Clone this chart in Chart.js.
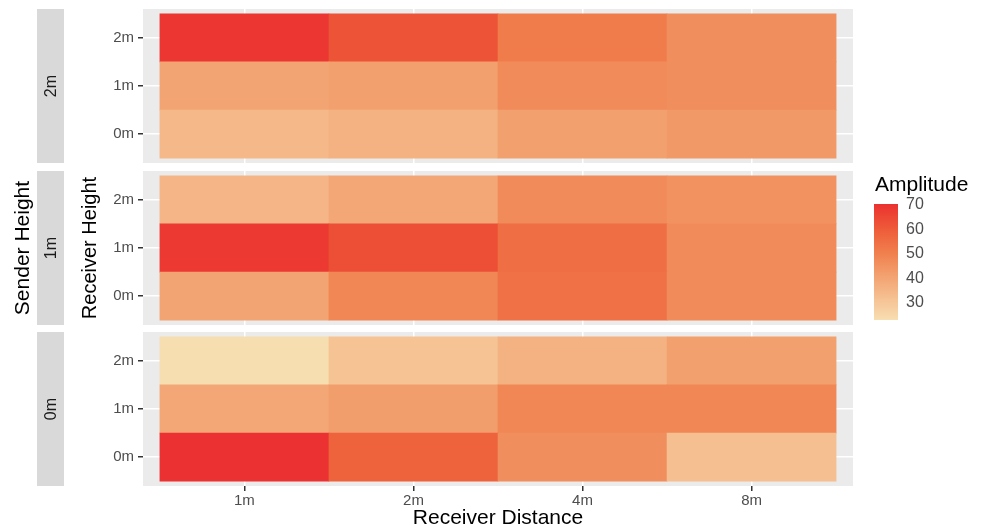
<!DOCTYPE html>
<html>
<head>
<meta charset="utf-8">
<script src="https://cdn.jsdelivr.net/npm/chart.js@4.4.1/dist/chart.umd.min.js"></script>
<style>
  body { margin: 0; background: #fff; font-family: "Liberation Sans", Arial, sans-serif; }
  #wrap { position: relative; width: 982px; height: 532px; overflow: hidden; }
  canvas { position: absolute; left: 0; }
  .rot { position: absolute; width: 300px; text-align: center; transform: rotate(-90deg); white-space: nowrap; }
  .strip { position: absolute; left: 37px; width: 27px; background: #D9D9D9; }
  .lab { position: absolute; font-size: 16px; color: #4D4D4D; }
</style>
</head>
<body>
<div id="wrap"></div>
<script>
// categories
var distances = ['1m', '2m', '4m', '8m'];
var receiverHeights = ['0m', '1m', '2m'];
var senderHeights = ['2m', '1m', '0m']; // panels top to bottom

// amplitude, rows = receiver height 0m, 1m, 2m; columns = distances
var ampSender2m = [
    [34, 36, 41, 43],
    [40, 41, 47, 46],
    [69, 62, 51, 46]
];
var ampSender1m = [
    [40, 48, 54, 47],
    [68, 63, 55, 47],
    [35, 39, 47, 45]
];
var ampSender0m = [
    [70.2, 58, 46, 32],
    [39, 42, 48, 48],
    [22.7, 31, 36, 41]
];
var legendTicks = [30, 40, 50, 60, 70];

var panels = [ampSender2m, ampSender1m, ampSender0m];

// colour ramp stops (value -> colour)
var rampValues = [22.7, 30, 40, 50, 60, 70.2];
var rampColors = [[247, 222, 177], [246, 198, 152], [243, 164, 115], [240, 128, 78], [238, 91, 56], [235, 49, 49]];

var allValues = [].concat.apply([], panels.map(function (p) { return [].concat.apply([], p); }));
var vMin = Math.min.apply(null, allValues);
var vMax = Math.max.apply(null, allValues);
function colorFor(v) {
    var i = 0;
    while (i < rampValues.length - 2 && v > rampValues[i + 1]) i++;
    var t = (v - rampValues[i]) / (rampValues[i + 1] - rampValues[i]);
    t = Math.max(0, Math.min(1, t));
    var a = rampColors[i], b = rampColors[i + 1];
    var c = [0, 1, 2].map(function (k) { return Math.round(a[k] + (b[k] - a[k]) * t); });
    return 'rgb(' + c.join(',') + ')';
}

var font = '"Liberation Sans", Arial, sans-serif';
var panelBg = {
    id: 'panelBg',
    beforeDraw: function (chart) {
        var a = chart.chartArea, ctx = chart.ctx;
        ctx.save();
        ctx.fillStyle = '#EBEBEB';
        ctx.fillRect(a.left, a.top, a.width, a.height);
        ctx.restore();
    }
};

var wrap = document.getElementById('wrap');
var panelTops = [9, 171, 332];
var panelH = 154;

function addText(text, css, cls) {
    var d = document.createElement('div');
    if (cls) d.className = cls;
    d.textContent = text;
    d.style.cssText += css;
    wrap.appendChild(d);
    return d;
}

panels.forEach(function (rows, p) {
    var bottom = p === panels.length - 1;
    var canvas = document.createElement('canvas');
    var top = panelTops[p] - 4;
    var h = bottom ? 532 - top : panelH + 8;
    canvas.width = 982;
    canvas.height = h;
    canvas.style.top = top + 'px';
    wrap.appendChild(canvas);

    var datasets = rows.map(function (vals, r) {
        return {
            label: receiverHeights[r],
            data: vals.map(function (v, c) { return { x: c, y: [r - 0.5, r + 0.5] }; }),
            backgroundColor: vals.map(colorFor),
            borderWidth: 0,
            grouped: false,
            barPercentage: 1,
            categoryPercentage: 1
        };
    });

    new Chart(canvas, {
        type: 'bar',
        data: { datasets: datasets },
        plugins: [panelBg],
        options: {
            responsive: false,
            animation: false,
            devicePixelRatio: 1,
            layout: { padding: { left: 0, right: 129, top: 4, bottom: bottom ? 0 : 4 } },
            plugins: { legend: { display: false }, tooltip: { enabled: false } },
            scales: {
                x: {
                    type: 'linear',
                    min: -0.6,
                    max: 3.6,
                    offset: false,
                    afterBuildTicks: function (s) { s.ticks = distances.map(function (d, i) { return { value: i }; }); },
                    afterFit: function (s) {
                        s.height = bottom ? 46 : 0;
                        s.paddingLeft = 0;
                        s.paddingRight = 0;
                    },
                    border: { display: false },
                    grid: { offset: false, color: '#FFFFFF', lineWidth: 1.5, tickColor: '#333333', tickLength: 5, drawTicks: bottom },
                    ticks: {
                        display: bottom,
                        padding: 1,
                        color: '#4D4D4D',
                        font: { family: font, size: 15 },
                        callback: function (v) { return distances[v]; }
                    },
                    title: {
                        display: bottom,
                        text: 'Receiver Distance',
                        color: '#000',
                        font: { family: font, size: 21 },
                        padding: { top: 0, bottom: 1 }
                    }
                },
                y: {
                    type: 'linear',
                    min: -0.6,
                    max: 2.6,
                    afterBuildTicks: function (s) { s.ticks = receiverHeights.map(function (d, i) { return { value: i }; }); },
                    afterFit: function (s) {
                        s.width = 143;
                        s.paddingTop = 0;
                        s.paddingBottom = 0;
                    },
                    border: { display: false },
                    grid: { color: '#FFFFFF', lineWidth: 1.5, tickColor: '#333333', tickLength: 5 },
                    ticks: {
                        padding: 4,
                        color: '#4D4D4D',
                        font: { family: font, size: 15 },
                        callback: function (v) { return receiverHeights[v]; }
                    }
                }
            }
        }
    });

    // facet strip on the left
    var strip = document.createElement('div');
    strip.className = 'strip';
    strip.style.top = panelTops[p] + 'px';
    strip.style.height = panelH + 'px';
    wrap.appendChild(strip);
    addText(senderHeights[p], 'left:' + (50.5 - 150) + 'px;top:' + (panelTops[p] + panelH / 2 - 9) + 'px;font-size:16px;line-height:18px;color:#1A1A1A;', 'rot');
});

// shared axis titles
var midY = (panelTops[0] + panelTops[2] + panelH) / 2;
addText('Sender Height', 'left:' + (22 - 150) + 'px;top:' + (midY - 12) + 'px;font-size:21px;line-height:24px;color:#000;', 'rot');
addText('Receiver Height', 'left:' + (89 - 150) + 'px;top:' + (midY - 12) + 'px;font-size:20px;line-height:24px;color:#000;', 'rot');

// colour bar legend
var barTop = 204, barH = 116, barLeft = 874, barW = 24;
addText('Amplitude', 'position:absolute;left:875px;top:172px;font-size:21px;line-height:24px;color:#000;');
var stops = [];
for (var i = 0; i <= 40; i++) {
    var v = vMax - (vMax - vMin) * i / 40;
    stops.push(colorFor(v) + ' ' + (i * 2.5) + '%');
}
var bar = document.createElement('div');
bar.style.cssText = 'position:absolute;left:' + barLeft + 'px;top:' + barTop + 'px;width:' + barW + 'px;height:' + barH + 'px;background:linear-gradient(to bottom,' + stops.join(',') + ');';
wrap.appendChild(bar);
legendTicks.forEach(function (t) {
    var y = barTop + (vMax - t) / (vMax - vMin) * barH;
    ['0px', (barW - 5) + 'px'].forEach(function (x) {
        var m = document.createElement('div');
        m.style.cssText = 'position:absolute;left:' + x + ';top:' + (y - 0.5) + 'px;width:5px;height:1px;background:rgba(255,255,255,0.8);';
        bar.appendChild(m);
    });
    addText(String(t), 'top:' + (y - 9) + 'px;left:906px;line-height:18px;', 'lab');
});
</script>
</body>
</html>
